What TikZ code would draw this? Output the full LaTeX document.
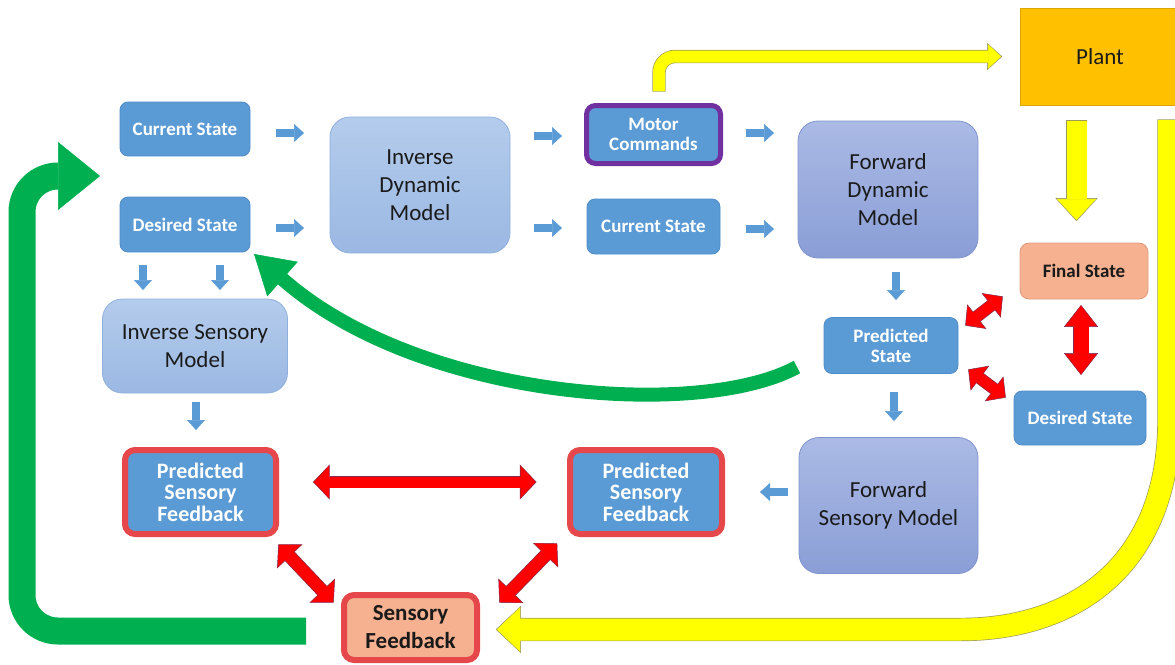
\documentclass[tikz,border=0pt]{standalone}
\usepackage{fontspec}
\setmainfont{Carlito}
\usetikzlibrary{arrows.meta}
\definecolor{boxblue}{HTML}{5B9BD5}
\definecolor{boxedge}{HTML}{4F8CC9}
\definecolor{mlighttop}{HTML}{B4CCEC}
\definecolor{mlightbot}{HTML}{9BB8E3}
\definecolor{mlightedge}{HTML}{8FB0DD}
\definecolor{mpurtop}{HTML}{ABBAE5}
\definecolor{mpurbot}{HTML}{8A9ED6}
\definecolor{mpuredge}{HTML}{7F94CE}
\definecolor{redfill}{HTML}{FF0000}
\definecolor{redline}{HTML}{8A2A4A}
\definecolor{redborder}{HTML}{E5474B}
\definecolor{salmon}{HTML}{F5B190}
\definecolor{salmonedge}{HTML}{E59B7C}
\definecolor{greenarr}{HTML}{00B050}
\definecolor{yellowarr}{HTML}{FFFF00}
\definecolor{yellowline}{HTML}{9C9C5A}
\definecolor{purpleb}{HTML}{7030A0}
\definecolor{plantfill}{HTML}{FFC000}
\definecolor{plantedge}{HTML}{DDA600}
\definecolor{textdark}{HTML}{1A1A1A}
\begin{document}
\begin{tikzpicture}[x=1pt,y=-1pt,
  every node/.style={inner sep=0pt, outer sep=0pt, align=center},
  bluebox/.style={draw=boxedge, line width=0.8pt, fill=boxblue, rounded corners=8pt,
    text=white, font=\fontsize{19}{20}\selectfont\bfseries},
  lightmodel/.style={draw=mlightedge, line width=0.8pt, top color=mlighttop, bottom color=mlightbot,
    rounded corners=20pt, text=textdark, font=\fontsize{23}{28}\selectfont},
  purmodel/.style={draw=mpuredge, line width=0.8pt, top color=mpurtop, bottom color=mpurbot,
    rounded corners=20pt, text=textdark, font=\fontsize{23}{28}\selectfont},
  psfbox/.style={draw=redborder, line width=6pt, fill=boxblue, rounded corners=10pt,
    text=white, font=\fontsize{22}{21.5}\selectfont\bfseries},
  blk/.style={line width=8pt, draw=boxblue, -{Triangle[width=18pt,length=10pt,line width=0.5pt]}},
  redin/.style={draw=redfill, line width=11pt,
    {Triangle[width=32pt,length=15pt,line width=0.5pt]}-{Triangle[width=32pt,length=15pt,line width=0.5pt]}},
  redout/.style={draw=redline, line width=12.4pt,
    {Triangle[width=35pt,length=16.7pt,line width=0.5pt]}-{Triangle[width=35pt,length=16.7pt,line width=0.5pt]}}
]
\useasboundingbox (0,0) rectangle (1175,664);
\clip (0,0) rectangle (1175,664);

% ---------- nodes ----------
\node[bluebox, minimum width=130pt, minimum height=54pt] (cs1) at (185,129) {Current State};
\node[bluebox, minimum width=130pt, minimum height=55pt] (ds1) at (185,224.5) {Desired State};
\node[lightmodel, minimum width=180pt, minimum height=136pt] (idm) at (420,185) {Inverse\\Dynamic\\Model};
\node[bluebox, draw=purpleb, line width=5pt, rounded corners=9pt, minimum width=134pt, minimum height=58pt] (mc) at (653.5,134.5) {Motor\\Commands};
\node[bluebox, minimum width=133pt, minimum height=55pt] (cs2) at (653.5,226.5) {Current State};
\node[purmodel, minimum width=180pt, minimum height=137pt] (fdm) at (888,189.5) {Forward\\Dynamic\\Model};
\node[bluebox, minimum width=134pt, minimum height=56pt] (ps) at (891,345.5) {Predicted\\State};
\node[purmodel, minimum width=179pt, minimum height=136pt] (fsm) at (888.5,505.5) {Forward\\Sensory Model};
\node[lightmodel, minimum width=185pt, minimum height=94pt] (isens) at (195,346) {Inverse Sensory\\Model};
\node[psfbox, minimum width=151pt, minimum height=84pt] (psf1) at (200.5,492) {Predicted\\Sensory\\Feedback};
\node[psfbox, minimum width=152pt, minimum height=84pt] (psf2) at (646,492) {Predicted\\Sensory\\Feedback};
\node[psfbox, fill=salmon, text=textdark, font=\fontsize{23}{28}\selectfont\bfseries,
  minimum width=133pt, minimum height=65pt] (sfb) at (410.5,627.5) {Sensory\\Feedback};
\node[draw=plantedge, line width=1pt, fill=plantfill, text=textdark, font=\fontsize{23}{28}\selectfont,
  minimum width=160pt, minimum height=97pt] (plant) at (1100,56.5) {Plant};
\node[draw=salmonedge, line width=0.8pt, fill=salmon, rounded corners=9pt, text=textdark,
  font=\fontsize{19}{20}\selectfont\bfseries, minimum width=128pt, minimum height=56pt] (fs) at (1084,271) {Final State};
\node[bluebox, minimum width=132pt, minimum height=54pt] (ds2) at (1080,418) {Desired State};

\coordinate (gtip) at (100,176);
\coordinate (gtail) at (797,367);
\coordinate (ytop) at (1169,120);

% ---------- green arrows ----------
\draw[greenarr, line width=27pt, rounded corners=36pt, -{Triangle[width=68pt,length=42pt,line width=0.5pt]}]
  ([xshift=-38pt,yshift=-3.5pt]sfb.west) -- (22,631) -- (22,176) -- (gtip);
\draw[greenarr, line width=14pt, -{Triangle[width=46pt,length=38pt,line width=0.5pt]}]
  (gtail) .. controls (700,420) and (420,400) .. ([xshift=4pt,yshift=-2pt]ds1.south east);

% ---------- yellow arrows (outline, then fill) ----------
\draw[yellowline, line width=23.4pt, shorten <=-0.7pt, shorten >=-1.2pt, -{Triangle[width=47pt,length=25pt,line width=0.5pt]}]
  (ytop) -- (1169,420) .. controls (1169,560) and (1080,629.5) .. (960,629.5)
  -- ([xshift=20pt,yshift=-2pt]sfb.east);
\draw[yellowarr, line width=22pt, -{Triangle[width=44pt,length=23pt,line width=0.5pt]}]
  (ytop) -- (1169,420) .. controls (1169,560) and (1080,629.5) .. (960,629.5)
  -- ([xshift=20pt,yshift=-2pt]sfb.east);
\draw[yellowline, line width=13.4pt, rounded corners=16pt, shorten <=-0.7pt, shorten >=-1.2pt, -{Triangle[width=27pt,length=15pt,line width=0.5pt]}]
  ([xshift=5.5pt,yshift=14.5pt]mc.north) |- ([xshift=-19pt]plant.west);
\draw[yellowarr, line width=12pt, rounded corners=16pt, -{Triangle[width=24pt,length=13pt,line width=0.5pt]}]
  ([xshift=5.5pt,yshift=14.5pt]mc.north) |- ([xshift=-19pt]plant.west);
\draw[yellowline, line width=21.4pt, shorten <=15.3pt, shorten >=21.8pt, -{Triangle[width=42pt,length=23pt,line width=0.5pt]}]
  ([xshift=-23.5pt]plant.south) -- ([xshift=-23.5pt]plant.south |- fs.north);
\draw[yellowarr, line width=20pt, shorten <=16pt, shorten >=23pt, -{Triangle[width=39pt,length=21pt,line width=0.5pt]}]
  ([xshift=-23.5pt]plant.south) -- ([xshift=-23.5pt]plant.south |- fs.north);

% ---------- small blue arrows ----------
\draw[blk, shorten <=26pt, shorten >=26pt] ([yshift=-4pt]cs1.east) -- ([yshift=-4pt]cs1.east -| idm.west);
\draw[blk, shorten <=26pt, shorten >=26pt] ([yshift=-3.5pt]ds1.east) -- ([yshift=-3.5pt]ds1.east -| idm.west);
\draw[blk, shorten <=24pt, shorten >=24.5pt] ([yshift=-1.5pt]mc.west -| idm.east) -- ([yshift=-1.5pt]mc.west);
\draw[blk, shorten <=24pt, shorten >=25pt] ([yshift=-1.5pt]cs2.west -| idm.east) -- ([yshift=-1.5pt]cs2.west);
\draw[blk, shorten <=25.5pt, shorten >=24pt] ([yshift=1.5pt]mc.east) -- ([yshift=1.5pt]mc.east -| fdm.west);
\draw[blk, shorten <=26pt, shorten >=24pt] ([yshift=-2.5pt]cs2.east) -- ([yshift=-2.5pt]cs2.east -| fdm.west);
\draw[blk, shorten <=14pt, shorten >=17.5pt] ([xshift=5pt]ps.north |- fdm.south) -- ([xshift=5pt]ps.north);
\draw[blk, shorten <=18.5pt, shorten >=16.5pt] ([xshift=3pt]ps.south) -- ([xshift=3pt]ps.south |- fsm.north);
\draw[blk, shorten <=11pt, shorten >=38pt] (fsm.west |- psf2.east) -- (psf2.east);
\draw[blk, shorten <=13pt, shorten >=9pt] ([xshift=-42pt]ds1.south) -- ([xshift=-42pt]ds1.south |- isens.north);
\draw[blk, shorten <=13pt, shorten >=9pt] ([xshift=35pt]ds1.south) -- ([xshift=35pt]ds1.south |- isens.north);
\draw[blk, shorten <=9pt, shorten >=20pt] ([xshift=1pt]isens.south) -- ([xshift=1pt]isens.south |- psf1.north);

% ---------- red double arrows (outline, then fill) ----------
\draw[redout, shorten <=37pt, shorten >=33.5pt] ([yshift=10pt]psf1.east) -- ([yshift=10pt]psf1.east -| psf2.west);
\draw[redin, shorten <=38pt, shorten >=34.5pt] ([yshift=10pt]psf1.east) -- ([yshift=10pt]psf1.east -| psf2.west);

\draw[redout, line width=13.4pt, shorten <=-1pt, shorten >=-1pt]
  ([xshift=3pt,yshift=-11pt]psf1.south east) -- ([xshift=-11pt,yshift=-7pt]sfb.north west);
\draw[redin, line width=12pt]
  ([xshift=3pt,yshift=-11pt]psf1.south east) -- ([xshift=-11pt,yshift=-7pt]sfb.north west);

\draw[redout, line width=13.4pt, shorten <=-1pt, shorten >=-1pt]
  ([xshift=-13.5pt,yshift=-10pt]psf2.south west) -- ([xshift=23pt,yshift=-7pt]sfb.north east);
\draw[redin, line width=12pt]
  ([xshift=-13.5pt,yshift=-10pt]psf2.south west) -- ([xshift=23pt,yshift=-7pt]sfb.north east);

\draw[redout, shorten <=-1pt, shorten >=-1pt,
  {Triangle[width=31pt,length=14.7pt,line width=0.5pt]}-{Triangle[width=31pt,length=14.7pt,line width=0.5pt]}]
  ([xshift=8pt,yshift=-7.5pt]ps.north east) -- ([xshift=-18pt,yshift=2pt]fs.south west);
\draw[redin, {Triangle[width=28pt,length=13pt,line width=0.5pt]}-{Triangle[width=28pt,length=13pt,line width=0.5pt]}]
  ([xshift=8pt,yshift=-7.5pt]ps.north east) -- ([xshift=-18pt,yshift=2pt]fs.south west);

\draw[redout, shorten <=-1pt, shorten >=-1pt,
  {Triangle[width=31pt,length=14.7pt,line width=0.5pt]}-{Triangle[width=31pt,length=14.7pt,line width=0.5pt]}]
  ([xshift=11pt,yshift=3.5pt]ps.south east) -- ([xshift=-9pt,yshift=-6pt]ds2.north west);
\draw[redin, {Triangle[width=28pt,length=13pt,line width=0.5pt]}-{Triangle[width=28pt,length=13pt,line width=0.5pt]}]
  ([xshift=11pt,yshift=3.5pt]ps.south east) -- ([xshift=-9pt,yshift=-6pt]ds2.north west);

\draw[redout, line width=16.4pt, shorten <=6pt, shorten >=16pt,
  {Triangle[width=34pt,length=21.8pt,line width=0.5pt]}-{Triangle[width=34pt,length=21.8pt,line width=0.5pt]}]
  ([xshift=-3pt]fs.south) -- ([xshift=-3pt]fs.south |- ds2.north);
\draw[redin, line width=15pt, shorten <=7pt, shorten >=17pt,
  {Triangle[width=31pt,length=20pt,line width=0.5pt]}-{Triangle[width=31pt,length=20pt,line width=0.5pt]}]
  ([xshift=-3pt]fs.south) -- ([xshift=-3pt]fs.south |- ds2.north);
\end{tikzpicture}
\end{document}
